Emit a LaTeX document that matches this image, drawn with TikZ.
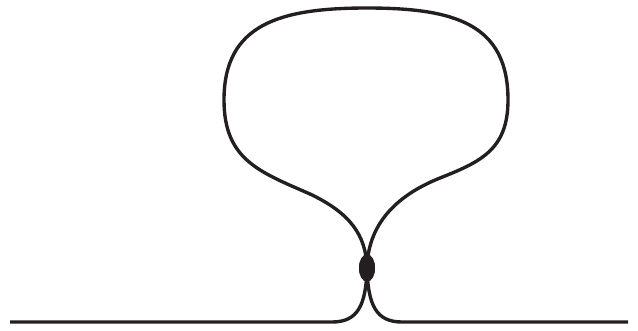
\documentclass[tikz,border=0pt]{standalone}
\usepackage{tikz}
\usetikzlibrary{shapes.geometric}
\definecolor{inkblack}{RGB}{35, 31, 32}

\begin{document}
\begin{tikzpicture}[x=0.025cm, y=-0.025cm,
    strand/.style={draw=inkblack, line width=2.4pt, line join=round},
    knot/.style={ellipse, fill=inkblack, inner sep=0pt, minimum width=0.4cm, minimum height=0.68cm}]
        \useasboundingbox (0,0) rectangle (638,330);
        % ends of the base line and the knot
        \coordinate (lend) at (10,322);
        \coordinate (rend) at (628,322);
        \node[knot] (knot) at (367,268) {};
        % base line, up through the knot, round the loop and back down
        \draw[strand] (lend) -- (332,322) .. controls (358,322) and (366,305) .. (knot.center)
          .. controls (366,235) and (350,213) .. (310,194)
          .. controls (260,172) and (224,160) .. (224,100)
          .. controls (224,24) and (280,8) .. (367,8)
          .. controls (455,8) and (508,24) .. (508,100)
          .. controls (508,150) and (480,162) .. (440,178)
          .. controls (395,196) and (368,225) .. (knot.center)
          .. controls (368,305) and (376,322) .. (402,322) -- (rend);
        \node[knot] at (knot) {};
      \end{tikzpicture}
\end{document}
